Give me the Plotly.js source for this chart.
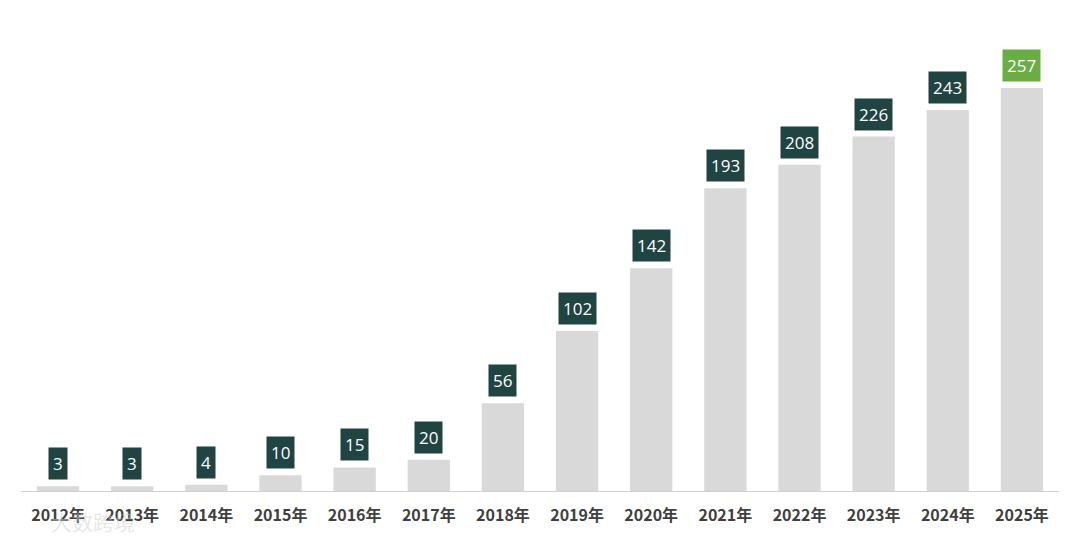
<!DOCTYPE html>
<html><head><meta charset="utf-8">
<script src="https://cdn.plot.ly/plotly-3.0.1.min.js"></script>
<style>body{margin:0;background:#fff}#c{width:1080px;height:540px}</style>
</head><body><div id="c"></div>
<script>
const years = ["2012年","2013年","2014年","2015年","2016年","2017年","2018年","2019年","2020年","2021年","2022年","2023年","2024年","2025年"];
const values = [3,3,4,10,15,20,56,102,142,193,208,226,243,257];
const labelColors = ["#1f4442","#1f4442","#1f4442","#1f4442","#1f4442","#1f4442","#1f4442","#1f4442","#1f4442","#1f4442","#1f4442","#1f4442","#1f4442","#6aad45"];

const annotations = years.map((y,i)=>({
  x: y, y: values[i], xref:'x', yref:'y', text: String(values[i]),
  showarrow:false, yanchor:'bottom', yshift:6,
  bgcolor: labelColors[i], borderpad:4,
  font:{family:'"Open Sans", "DejaVu Sans", sans-serif', size:17, color:'#ffffff'}
}));
annotations.push({
  xref:'paper', yref:'paper', x:0.027, y:-0.066, xanchor:'left', yanchor:'middle',
  text:'大数跨境', showarrow:false,
  font:{family:'"Noto Sans CJK SC", sans-serif', size:21, color:'rgba(205,205,205,0.5)'}
});

Plotly.newPlot('c', [{
  type:'bar', x: years, y: values,
  marker:{color:'#d9d9d9'}, width:0.57, hoverinfo:'skip'
}], {
  width:1080, height:540,
  margin:{l:21, r:21, t:40, b:49},
  paper_bgcolor:'#ffffff', plot_bgcolor:'#ffffff',
  showlegend:false,
  xaxis:{
    showline:true, linecolor:'#d0d0d0', linewidth:1, ticks:'',
    ticklabelstandoff:10,
    tickfont:{family:'"Noto Sans CJK SC", sans-serif', size:16, color:'#404040', weight:'bold'},
    showgrid:false, zeroline:false
  },
  yaxis:{range:[0,287.6], visible:false, showgrid:false, zeroline:false},
  annotations: annotations,
  bargap:0.43
}, {staticPlot:true, displayModeBar:false});
</script></body></html>
